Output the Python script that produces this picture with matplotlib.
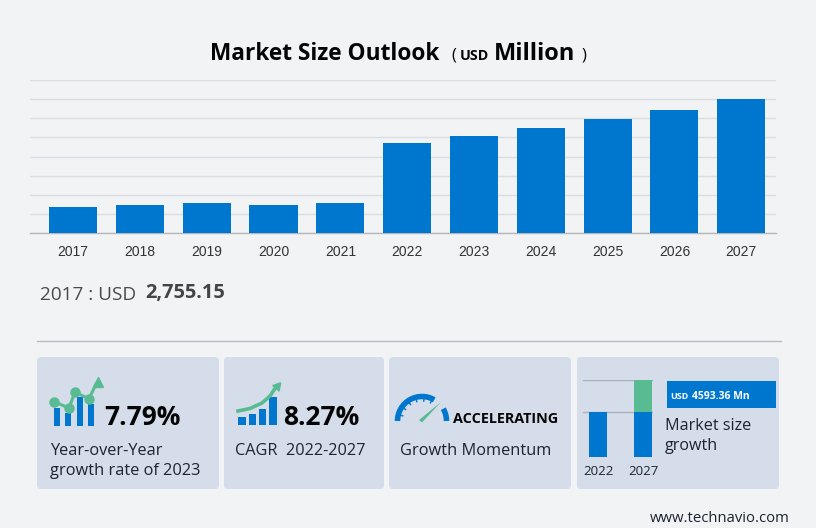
import numpy as np
import matplotlib
matplotlib.use("Agg")
import matplotlib.pyplot as plt
from matplotlib.patches import FancyBboxPatch, Rectangle, Arc

years = ["2017","2018","2019","2020","2021","2022","2023","2024","2025","2026","2027"]
values = [2755.15,2950,3150,2930,3150,9420,10150,11000,11880,12880,14063]
mini_years = ["2022","2027"]
mini_base = [58,58]
mini_growth = [0,42]

BG="#f2f3f5"; BLUE="#0077cf"; GREEN="#58bb91"; CARD="#d4dde9"; GRID="#dcdde2"
W,H=816,528
plt.rcParams['font.family']=['Open Sans','DejaVu Sans']
fig=plt.figure(figsize=(W/100,H/100),dpi=100,facecolor=BG)

def axpx(x0,y0,x1,y1,**k):
    return fig.add_axes([x0/W,1-y1/H,(x1-x0)/W,(y1-y0)/H],**k)

# overlay in pixel coordinates for cards, text, icons
ov=axpx(0,0,W,H,zorder=1); ov.set_xlim(0,W); ov.set_ylim(H,0); ov.axis('off')

# main chart
ax=axpx(30,80,776,233,zorder=2); ax.patch.set_alpha(0)
ax.bar(range(len(years)),values,width=0.72,color=BLUE,zorder=3)
ax.set_xlim(-0.644,10.52); ax.set_ylim(0,16000)
ax.set_yticks(range(0,16001,2000)); ax.tick_params(axis='y',length=0,labelleft=False)
ax.yaxis.grid(True,color=GRID,lw=1); ax.set_axisbelow(True)
ax.set_xticks(range(len(years))); ax.set_xticklabels(years,family='Liberation Sans',fontsize=10,color="#333333")
ax.tick_params(axis='x',length=0,pad=8.5)
for s in ['top','left','right']: ax.spines[s].set_visible(False)
ax.spines['bottom'].set_color("#b4b6bc"); ax.spines['bottom'].set_linewidth(1)

def T(x,y,s,size,w='normal',c='#1c2430',ha='left',**k):
    return ov.text(x,y,s,fontsize=size,fontweight=w,color=c,ha=ha,va='baseline',**k)

T(210.5,60,"Market Size Outlook",16.3,'bold','#050505')
T(451,60,"(",12,'normal','#050505')
T(459.5,60,"USD",10.3,'bold','#050505')
T(494,60,"Million",17,'bold','#050505')
T(581,60,")",12,'normal','#050505')
T(40,300,"2017 : USD",13.7,'normal','#4a4a4a')
T(145,298,"2,755.15",14.4,'bold','#444444')

ov.plot([37,781],[340.5,340.5],color="#b9bac6",lw=1)
for x0,x1 in [(37,219),(224,384),(389,571),(577,779)]:
    ov.add_patch(FancyBboxPatch((x0+4,361),x1-x0-8,124,boxstyle="round,pad=4,rounding_size=4",fc=CARD,ec='none'))

# card 1
for a,b,t in [(54,60,407.7),(65,71,413),(77,83,397),(88,94,404)]:
    ov.add_patch(Rectangle((a,t),b-a,426-t,fc=BLUE,ec='none',zorder=2))
px=[54,69,75,89,96]; py=[401.7,408,392,399,384]
ov.plot(px,py,color=GREEN,lw=2.2,zorder=3)
ov.plot(px[:4],py[:4],'o',color=GREEN,ms=6.5,zorder=3)
ov.plot([97.5],[382],marker='^',color=GREEN,ms=7,zorder=3)
T(104,425,"7.79%",19,'bold','#050505')
T(50,455,"Year-over-Year",11.8)
T(50,475,"growth rate of 2023",11.8)

# card 2
for a,b,t in [(238,245.7,417),(248.7,255.7,414),(259,266,409),(269,277,397)]:
    ov.add_patch(Rectangle((a,t),b-a,425-t,fc=BLUE,ec='none',zorder=2))
ov.plot([238,250,262,270,275],[411,408.5,403,396,388.5],color=GREEN,lw=2.6,zorder=3)
ov.plot([276.5],[386],marker=(3,0,-40),color=GREEN,ms=7,zorder=3)
T(283,425,"8.27%",19,'bold','#050505')
T(235,455,"CAGR  2022-2027",11.7)

# card 3
ov.add_patch(Arc((422,421),49,49,theta1=180,theta2=300,color=BLUE,lw=4))
ov.add_patch(Arc((422,421),49,49,theta1=330,theta2=360,color=BLUE,lw=4))
for ang in np.radians([195,215,235,255,275,295]):
    ov.plot([422+24*np.cos(ang),422+20*np.cos(ang)],[421+24*np.sin(ang),421+20*np.sin(ang)],color=BLUE,lw=1)
ov.fill([419,422,441],[420,422.5,402],color=GREEN,ec='none')
T(453,423,"ACCELERATING",10.4,'bold','#050505')
T(400,455,"Growth Momentum",11.8)

# card 4
mini=axpx(582.7,380.3,653,456.7,zorder=2); mini.patch.set_alpha(0)
mini.bar([0,1],mini_base,width=0.387,color=BLUE,zorder=3)
mini.bar([0,1],mini_growth,bottom=mini_base,width=0.387,color=GREEN,zorder=3)
mini.set_xlim(-0.34,1.222); mini.set_ylim(0,100)
mini.set_yticks([58,100]); mini.tick_params(axis='y',length=0,labelleft=False)
mini.yaxis.grid(True,color="#a9b0ba",lw=1,zorder=1); mini.set_axisbelow(True)
mini.set_xticks([0,1]); mini.set_xticklabels(mini_years,fontsize=9.5,color="#1c2430")
mini.tick_params(axis='x',length=0,pad=6)
for s in mini.spines.values(): s.set_visible(False)
ov.add_patch(Rectangle((667,381),109,27,fc=BLUE,ec='none'))
T(670,399,"USD",6.5,'bold','#ffffff')
T(692,399,"4593.36 Mn",7.5,'bold','#ffffff')
T(665,430,"Market size",11.6)
T(665,450,"growth",11.6)

T(650,522,"www.technavio.com",10.7,'normal','#1c2430')
fig.savefig("out.png",dpi=100,facecolor=BG)
